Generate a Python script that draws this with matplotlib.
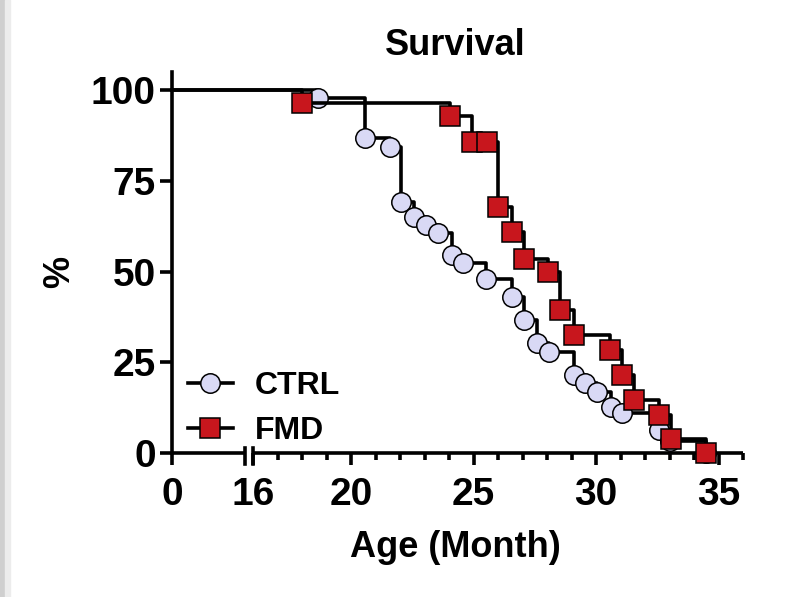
import numpy as np
import matplotlib

matplotlib.use('Agg')
from matplotlib import pyplot as plt
from matplotlib.patches import Rectangle

plt.rcParams['font.family'] = ['Liberation Sans', 'DejaVu Sans']
plt.rcParams['font.weight'] = 'bold'

# survival data (age in months, % alive after each step)
ctrl_age = [18.65, 20.55, 21.57, 22.05, 22.57, 23.07, 23.55, 24.1, 24.58, 25.5,
            26.56, 27.04, 27.58, 28.06, 29.08, 29.56, 30.04, 30.59, 31.07, 32.57,
            33.0, 34.5]
ctrl_pct = [97.8, 86.7, 84.4, 69.2, 65.1, 62.8, 60.5, 54.5, 52.3, 47.9,
            43.1, 36.6, 30.2, 27.9, 21.5, 19.2, 16.9, 12.8, 10.9, 6.3,
            3.2, 0.0]
fmd_age = [18.0, 24.03, 24.92, 25.53, 26.0, 26.56, 27.04, 28.03, 28.54, 29.08,
           30.55, 31.07, 31.55, 32.57, 33.05, 34.47]
fmd_pct = [96.4, 92.8, 85.8, 85.8, 67.9, 61.0, 53.6, 49.9, 39.4, 32.4,
           28.5, 21.5, 14.6, 10.5, 3.8, 0.0]

x_major = [0, 16, 20, 25, 30, 35]
x_minor = [m for m in range(17, 37) if m not in x_major]
y_ticks = [0, 25, 50, 75, 100]

# broken x axis: 0..16 squeezed into a short stub, then 1 unit per month
GAP_U = 3.32
K = GAP_U / 16.0
BREAK_X = 14.37


def fwd(x):
    x = np.asarray(x, dtype=float)
    return np.where(x < 16, x * K, GAP_U + (x - 16))


def inv(u):
    u = np.asarray(u, dtype=float)
    return np.where(u < GAP_U, u / K, u - GAP_U + 16)


fig = plt.figure(figsize=(7.86, 5.97), dpi=100)
ax = fig.add_axes([172 / 786, 144 / 597, 571 / 786, 381 / 597])
ax.set_xscale('function', functions=(fwd, inv))
ax.set_xlim(0, 36)
ax.set_ylim(0, 105)

lw = 2.6
ax.plot([0] + ctrl_age, [100] + ctrl_pct, drawstyle='steps-post', color='black', lw=lw,
        marker='o', markevery=slice(1, None), ms=14, mfc='#d9d9f5', mec='black', mew=1.1,
        clip_on=False, label='CTRL', zorder=3)
ax.plot([0] + fmd_age, [100] + fmd_pct, drawstyle='steps-post', color='black', lw=lw,
        marker='s', markevery=slice(1, None), ms=14, mfc='#c8161d', mec='black', mew=1.1,
        clip_on=False, label='FMD', zorder=4)

# spines
for s in ['top', 'right', 'bottom']:
    ax.spines[s].set_visible(False)
ax.spines['left'].set_linewidth(lw)

# hand-drawn bottom axis with the break
tr = ax.get_xaxis_transform()
ax.plot([0, BREAK_X], [0, 0], transform=tr, color='black', lw=lw, clip_on=False,
        solid_capstyle='butt', zorder=2)
ax.plot([16, 36], [0, 0], transform=tr, color='black', lw=lw, clip_on=False,
        solid_capstyle='butt', zorder=2)
for bx in [BREAK_X, 16]:
    ax.plot([bx, bx], [0.014, -0.03], transform=tr, color='black', lw=lw, clip_on=False,
            zorder=2)

ax.set_xticks(x_major)
ax.set_xticks(x_minor, minor=True)
ax.set_xticklabels([str(v) for v in x_major])
ax.set_yticks(y_ticks)
ax.set_yticklabels([str(v) for v in y_ticks])
ax.tick_params(axis='both', which='major', direction='out', length=8.6, width=lw,
               labelsize=28, pad=3)
ax.tick_params(axis='x', which='major', pad=9)
ax.tick_params(axis='x', which='minor', direction='out', length=5, width=lw)

leg = ax.legend(loc='center left', bbox_to_anchor=(188 / 786, 1 - 408.5 / 597),
                bbox_transform=fig.transFigure, frameon=False, fontsize=23,
                borderpad=0, borderaxespad=0, handlelength=1.4, handletextpad=0.7,
                labelspacing=0.47)

fig.text(455 / 786, 1 - 55 / 597, 'Survival', ha='center', va='baseline',
         fontsize=26, fontweight='bold')
fig.text(455 / 786, 1 - 557 / 597, 'Age (Month)', ha='center', va='baseline',
         fontsize=26, fontweight='bold')
fig.text(60 / 786, 1 - 272 / 597, '%', ha='center', va='center', rotation=90,
         fontsize=26, fontweight='bold')

# faint screenshot shadow at the left edge
fig.patches.append(Rectangle((0, 0), 5 / 786, 1, transform=fig.transFigure,
                             color='#cfcfcf', zorder=0))
fig.patches.append(Rectangle((5 / 786, 0), 5 / 786, 1, transform=fig.transFigure,
                             color='#ececec', zorder=0))

fig.savefig('out.png', dpi=100)
